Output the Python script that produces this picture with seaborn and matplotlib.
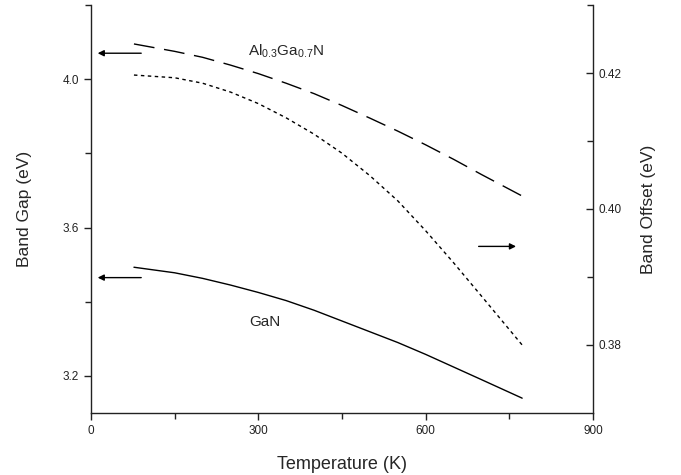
import matplotlib
matplotlib.use("Agg")
import matplotlib.pyplot as plt
import seaborn as sns
import pandas as pd

temperature = [77, 150, 200, 250, 300, 350, 400, 450, 500, 550, 600, 650, 700, 773]
algan_gap = [4.095, 4.075, 4.059, 4.038, 4.015, 3.989, 3.961, 3.929, 3.895, 3.860, 3.823, 3.784, 3.743, 3.685]
gan_gap = [3.493, 3.478, 3.463, 3.445, 3.425, 3.403, 3.377, 3.348, 3.319, 3.290, 3.258, 3.224, 3.190, 3.140]
band_offset = [0.4197, 0.4193, 0.4185, 0.4172, 0.4155, 0.4134, 0.4110, 0.4082, 0.4049, 0.4012, 0.3968, 0.3921, 0.3872, 0.3800]

x_ticks = [0, 300, 600, 900]
left_ticks = [3.2, 3.6, 4.0]
right_ticks = [0.38, 0.40, 0.42]

sns.set_style("ticks")
plt.rcParams['font.family'] = ['Liberation Sans', 'DejaVu Sans']
plt.rcParams['mathtext.fontset'] = 'custom'
plt.rcParams['mathtext.rm'] = 'Liberation Sans'
plt.rcParams['mathtext.it'] = 'Liberation Sans'

df = pd.DataFrame({"T": temperature, "AlGaN": algan_gap, "GaN": gan_gap, "Offset": band_offset})

fig = plt.figure(figsize=(6.81, 4.75), dpi=100)
ax = fig.add_axes([91/681, 1-413/475, (593-91)/681, (413-5)/475])
ax2 = ax.twinx()

sns.lineplot(data=df, x="T", y="AlGaN", ax=ax, color="black", lw=1.0)
ax.lines[-1].set_dashes([15, 7])
sns.lineplot(data=df, x="T", y="GaN", ax=ax, color="black", lw=1.0)
sns.lineplot(data=df, x="T", y="Offset", ax=ax2, color="black", lw=1.0)
ax2.lines[-1].set_dashes([2.5, 2.5])

ax.set_xlim(0, 900)
ax.set_ylim(3.1, 4.2)
ax2.set_ylim(0.37, 0.43)

ax.set_xticks(x_ticks)
ax.set_xticks([150, 450, 750], minor=True)
ax.set_yticks(left_ticks)
ax.set_yticks([3.4, 3.8, 4.2], minor=True)
ax.set_yticklabels([f"{v:.1f}" for v in left_ticks])
ax2.set_yticks(right_ticks)
ax2.set_yticks([0.39, 0.41, 0.43], minor=True)
ax2.set_yticklabels([f"{v:.2f}" for v in right_ticks])

for a in (ax, ax2):
    a.spines['top'].set_visible(False)
    for s in a.spines.values():
        s.set_linewidth(1.0)
        s.set_color('#222222')
ax.spines['right'].set_visible(False)
ax2.spines['left'].set_visible(False)
ax2.spines['bottom'].set_visible(False)

ax.tick_params(axis='both', which='major', length=5, width=1, labelsize=8.5, colors='#222222', direction='out')
ax.tick_params(axis='both', which='minor', length=4, width=1, colors='#222222', direction='out')
ax2.tick_params(axis='y', which='major', length=5, width=1, labelsize=8.5, colors='#222222', direction='in', pad=4)
ax2.tick_params(axis='y', which='minor', length=4, width=1, colors='#222222', direction='in')

ax.set_xlabel("Temperature (K)", fontsize=13, labelpad=14)
ax.set_ylabel("Band Gap (eV)", fontsize=12.5, labelpad=22)
ax2.set_ylabel("Band Offset (eV)", fontsize=12.5, labelpad=14)

ax.text(281, 4.076, r"Al$_{0.3}$Ga$_{0.7}$N", fontsize=11, va='center', ha='left')
ax.text(283, 3.346, "GaN", fontsize=11, va='center', ha='left')

arrow_kw = dict(arrowstyle='-|>', color='black', lw=1.0, mutation_scale=9)
ax.annotate("", xy=(7, 4.070), xytext=(95, 4.070), arrowprops=arrow_kw)
ax.annotate("", xy=(7, 3.465), xytext=(95, 3.465), arrowprops=arrow_kw)
ax2.annotate("", xy=(767, 0.3945), xytext=(690, 0.3945), arrowprops=arrow_kw)

fig.savefig("out.png", dpi=100)
